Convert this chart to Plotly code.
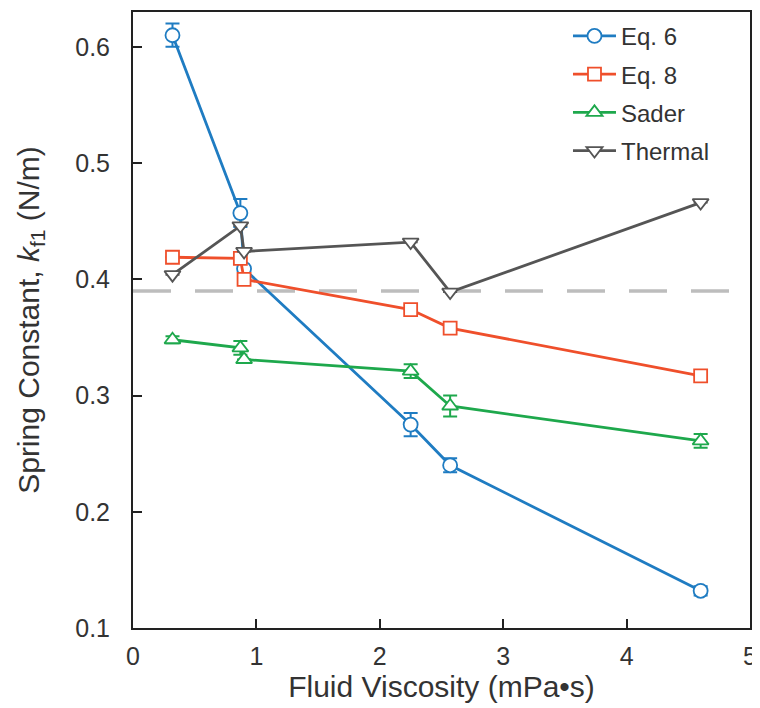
import plotly.graph_objects as go

viscosity = [0.32, 0.87, 0.90, 2.25, 2.57, 4.60]

eq6 = [0.610, 0.457, 0.409, 0.275, 0.240, 0.132]
eq6_err = [0.010, 0.012, 0.0, 0.010, 0.006, 0.004]

eq8 = [0.419, 0.418, 0.400, 0.374, 0.358, 0.317]
eq8_err = [0.0, 0.0, 0.0, 0.0, 0.0, 0.0]

sader = [0.348, 0.341, 0.331, 0.321, 0.291, 0.261]
sader_err = [0.003, 0.006, 0.0, 0.006, 0.009, 0.006]

thermal = [0.404, 0.446, 0.424, 0.432, 0.389, 0.466]
thermal_err = [0.0, 0.0, 0.0, 0.0, 0.0, 0.0]

reference_k = 0.39

series = [
    ("Eq. 6", eq6, eq6_err, "#1f7cc2", "circle", 14),
    ("Eq. 8", eq8, eq8_err, "#ef4f2b", "square", 13),
    ("Sader", sader, sader_err, "#1ea84c", "triangle-up", 14),
    ("Thermal", thermal, thermal_err, "#555555", "triangle-down", 14),
]

fig = go.Figure()
for i, (name, ys, errs, color, sym, size) in enumerate(series):
    fig.add_trace(go.Scatter(
        x=viscosity, y=ys, name=name, mode="lines+markers",
        line=dict(color=color, width=2.8),
        marker=dict(symbol=sym, size=size, color="white",
                    line=dict(color=color, width=1.8)),
        error_y=dict(type="data", array=errs, visible=True,
                     color=color, thickness=2, width=7),
        legendgroup=name,
    ))

fig.add_shape(type="line", xref="paper", x0=0, x1=1, yref="y",
              y0=reference_k, y1=reference_k,
              line=dict(color="#bdbdbd", width=3.5, dash="38px,24px"),
              layer="below")

font_family = "Liberation Sans, Arial, sans-serif"
fig.update_layout(
    width=752, height=700,
    margin=dict(l=125, r=10, t=2, b=80),
    paper_bgcolor="white", plot_bgcolor="white",
    font=dict(family=font_family, color="#333333", size=25),
    showlegend=True,
    legend=dict(x=0.705, y=0.997, xanchor="left", yanchor="top",
                font=dict(size=24, color="#333333"),
                tracegroupgap=4, itemwidth=43, bgcolor="rgba(0,0,0,0)"),
    xaxis=dict(range=[0, 5], tickvals=[0, 1, 2, 3, 4, 5],
               ticks="inside", ticklen=9, tickwidth=2, tickcolor="#222222",
               showline=True, linecolor="#222222", linewidth=2, mirror=True,
               showgrid=False, zeroline=False, ticklabelstandoff=5,
               tickfont=dict(size=25, color="#333333"),
               title=dict(text="Fluid Viscosity (mPa•s)", font=dict(size=30, color="#333333"),
                          standoff=0)),
    yaxis=dict(range=[0.1, 0.63], tickvals=[0.1, 0.2, 0.3, 0.4, 0.5, 0.6],
               ticktext=["0.1", "0.2", "0.3", "0.4", "0.5", "0.6"],
               ticks="inside", ticklen=9, tickwidth=2, tickcolor="#222222",
               showline=True, linecolor="#222222", linewidth=2, mirror=True,
               showgrid=False, zeroline=False, ticklabelstandoff=16,
               tickfont=dict(size=25, color="#333333"),
               title=dict(text="Spring Constant, <i>k</i><sub>f1</sub> (N/m)",
                          font=dict(size=30, color="#333333"), standoff=27)),
)

fig.write_html("out.html")
